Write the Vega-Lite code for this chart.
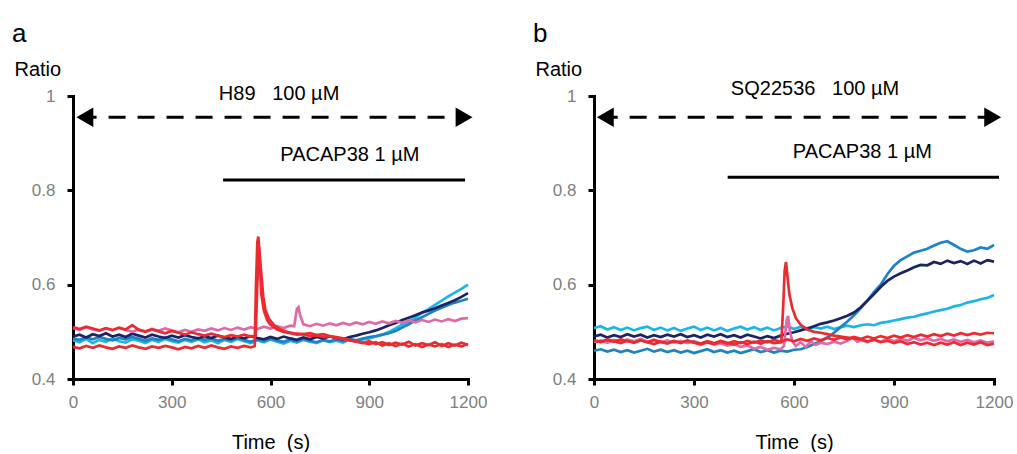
{
"$schema": "https://vega.github.io/schema/vega-lite/v6.json",
"padding": {"left": 12, "top": 21, "right": 5, "bottom": 0},
"spacing": 46,
"config": {
 "view": {"stroke": null},
 "font": "Liberation Sans",
 "axis": {"grid": false, "domainColor": "black", "domainWidth": 3, "domainCap": "square", "tickColor": "black", "tickWidth": 3, "tickSize": 6, "labelColor": "#808080", "labelFontSize": 17, "labelFont": "Liberation Sans", "titleFont": "Liberation Sans", "titleFontSize": 20, "titleFontWeight": "normal", "titleColor": "black"},
 "axisX": {"labelFlush": false, "labelPadding": 9, "titlePadding": 22, "labelOverlap": false},
 "axisY": {"titleAngle": 0, "titleAlign": "left", "titleBaseline": "alphabetic", "titleX": -59, "titleY": -21, "labelPadding": 12},
 "title": {"fontSize": 26, "fontWeight": "normal", "anchor": "start", "font": "Liberation Sans", "color": "black", "offset": 12}
},
"datasets": {
"a": [
{"s":"1cy","t":0,"v":0.482},{"s":"1cy","t":20,"v":0.478},{"s":"1cy","t":40,"v":0.485},{"s":"1cy","t":60,"v":0.476},{"s":"1cy","t":80,"v":0.483},{"s":"1cy","t":100,"v":0.479},{"s":"1cy","t":120,"v":0.486},{"s":"1cy","t":140,"v":0.480},{"s":"1cy","t":160,"v":0.477},{"s":"1cy","t":180,"v":0.484},{"s":"1cy","t":200,"v":0.481},{"s":"1cy","t":220,"v":0.476},{"s":"1cy","t":240,"v":0.483},{"s":"1cy","t":260,"v":0.479},{"s":"1cy","t":280,"v":0.485},{"s":"1cy","t":300,"v":0.480},{"s":"1cy","t":320,"v":0.477},{"s":"1cy","t":340,"v":0.483},{"s":"1cy","t":360,"v":0.479},{"s":"1cy","t":380,"v":0.484},{"s":"1cy","t":400,"v":0.478},{"s":"1cy","t":420,"v":0.482},{"s":"1cy","t":440,"v":0.476},{"s":"1cy","t":460,"v":0.483},{"s":"1cy","t":480,"v":0.479},{"s":"1cy","t":500,"v":0.485},{"s":"1cy","t":520,"v":0.480},{"s":"1cy","t":540,"v":0.476},{"s":"1cy","t":560,"v":0.482},{"s":"1cy","t":580,"v":0.478},{"s":"1cy","t":600,"v":0.484},{"s":"1cy","t":620,"v":0.479},{"s":"1cy","t":640,"v":0.475},{"s":"1cy","t":660,"v":0.481},{"s":"1cy","t":680,"v":0.477},{"s":"1cy","t":700,"v":0.483},{"s":"1cy","t":720,"v":0.479},{"s":"1cy","t":740,"v":0.476},{"s":"1cy","t":760,"v":0.482},{"s":"1cy","t":780,"v":0.478},{"s":"1cy","t":800,"v":0.481},{"s":"1cy","t":820,"v":0.477},{"s":"1cy","t":840,"v":0.483},{"s":"1cy","t":860,"v":0.480},{"s":"1cy","t":880,"v":0.484},{"s":"1cy","t":900,"v":0.486},{"s":"1cy","t":920,"v":0.490},{"s":"1cy","t":940,"v":0.494},{"s":"1cy","t":960,"v":0.500},{"s":"1cy","t":980,"v":0.507},{"s":"1cy","t":1000,"v":0.515},{"s":"1cy","t":1020,"v":0.522},{"s":"1cy","t":1040,"v":0.530},{"s":"1cy","t":1060,"v":0.540},{"s":"1cy","t":1080,"v":0.548},{"s":"1cy","t":1100,"v":0.557},{"s":"1cy","t":1120,"v":0.566},{"s":"1cy","t":1140,"v":0.575},{"s":"1cy","t":1160,"v":0.583},{"s":"1cy","t":1180,"v":0.591},{"s":"1cy","t":1200,"v":0.600},
{"s":"2mb","t":0,"v":0.486},{"s":"2mb","t":20,"v":0.483},{"s":"2mb","t":40,"v":0.488},{"s":"2mb","t":60,"v":0.484},{"s":"2mb","t":80,"v":0.489},{"s":"2mb","t":100,"v":0.485},{"s":"2mb","t":120,"v":0.482},{"s":"2mb","t":140,"v":0.487},{"s":"2mb","t":160,"v":0.484},{"s":"2mb","t":180,"v":0.489},{"s":"2mb","t":200,"v":0.485},{"s":"2mb","t":220,"v":0.481},{"s":"2mb","t":240,"v":0.486},{"s":"2mb","t":260,"v":0.483},{"s":"2mb","t":280,"v":0.488},{"s":"2mb","t":300,"v":0.484},{"s":"2mb","t":320,"v":0.480},{"s":"2mb","t":340,"v":0.485},{"s":"2mb","t":360,"v":0.482},{"s":"2mb","t":380,"v":0.487},{"s":"2mb","t":400,"v":0.483},{"s":"2mb","t":420,"v":0.486},{"s":"2mb","t":440,"v":0.481},{"s":"2mb","t":460,"v":0.485},{"s":"2mb","t":480,"v":0.482},{"s":"2mb","t":500,"v":0.487},{"s":"2mb","t":520,"v":0.483},{"s":"2mb","t":540,"v":0.479},{"s":"2mb","t":560,"v":0.484},{"s":"2mb","t":580,"v":0.481},{"s":"2mb","t":600,"v":0.486},{"s":"2mb","t":620,"v":0.482},{"s":"2mb","t":640,"v":0.479},{"s":"2mb","t":660,"v":0.484},{"s":"2mb","t":680,"v":0.480},{"s":"2mb","t":700,"v":0.485},{"s":"2mb","t":720,"v":0.481},{"s":"2mb","t":740,"v":0.478},{"s":"2mb","t":760,"v":0.483},{"s":"2mb","t":780,"v":0.480},{"s":"2mb","t":800,"v":0.484},{"s":"2mb","t":820,"v":0.481},{"s":"2mb","t":840,"v":0.485},{"s":"2mb","t":860,"v":0.482},{"s":"2mb","t":880,"v":0.486},{"s":"2mb","t":900,"v":0.489},{"s":"2mb","t":920,"v":0.491},{"s":"2mb","t":940,"v":0.494},{"s":"2mb","t":960,"v":0.497},{"s":"2mb","t":980,"v":0.502},{"s":"2mb","t":1000,"v":0.509},{"s":"2mb","t":1020,"v":0.516},{"s":"2mb","t":1040,"v":0.524},{"s":"2mb","t":1060,"v":0.531},{"s":"2mb","t":1080,"v":0.538},{"s":"2mb","t":1100,"v":0.545},{"s":"2mb","t":1120,"v":0.551},{"s":"2mb","t":1140,"v":0.557},{"s":"2mb","t":1160,"v":0.562},{"s":"2mb","t":1180,"v":0.566},{"s":"2mb","t":1200,"v":0.570},
{"s":"3nv","t":0,"v":0.490},{"s":"3nv","t":20,"v":0.494},{"s":"3nv","t":40,"v":0.488},{"s":"3nv","t":60,"v":0.495},{"s":"3nv","t":80,"v":0.491},{"s":"3nv","t":100,"v":0.497},{"s":"3nv","t":120,"v":0.490},{"s":"3nv","t":140,"v":0.494},{"s":"3nv","t":160,"v":0.489},{"s":"3nv","t":180,"v":0.496},{"s":"3nv","t":200,"v":0.492},{"s":"3nv","t":220,"v":0.488},{"s":"3nv","t":240,"v":0.494},{"s":"3nv","t":260,"v":0.490},{"s":"3nv","t":280,"v":0.487},{"s":"3nv","t":300,"v":0.492},{"s":"3nv","t":320,"v":0.488},{"s":"3nv","t":340,"v":0.493},{"s":"3nv","t":360,"v":0.489},{"s":"3nv","t":380,"v":0.486},{"s":"3nv","t":400,"v":0.491},{"s":"3nv","t":420,"v":0.487},{"s":"3nv","t":440,"v":0.492},{"s":"3nv","t":460,"v":0.488},{"s":"3nv","t":480,"v":0.485},{"s":"3nv","t":500,"v":0.490},{"s":"3nv","t":520,"v":0.486},{"s":"3nv","t":540,"v":0.491},{"s":"3nv","t":560,"v":0.487},{"s":"3nv","t":580,"v":0.484},{"s":"3nv","t":600,"v":0.489},{"s":"3nv","t":620,"v":0.485},{"s":"3nv","t":640,"v":0.490},{"s":"3nv","t":660,"v":0.486},{"s":"3nv","t":680,"v":0.483},{"s":"3nv","t":700,"v":0.488},{"s":"3nv","t":720,"v":0.484},{"s":"3nv","t":740,"v":0.489},{"s":"3nv","t":760,"v":0.486},{"s":"3nv","t":780,"v":0.490},{"s":"3nv","t":800,"v":0.487},{"s":"3nv","t":820,"v":0.484},{"s":"3nv","t":840,"v":0.489},{"s":"3nv","t":860,"v":0.492},{"s":"3nv","t":880,"v":0.496},{"s":"3nv","t":900,"v":0.499},{"s":"3nv","t":920,"v":0.503},{"s":"3nv","t":940,"v":0.508},{"s":"3nv","t":960,"v":0.514},{"s":"3nv","t":980,"v":0.519},{"s":"3nv","t":1000,"v":0.525},{"s":"3nv","t":1020,"v":0.530},{"s":"3nv","t":1040,"v":0.535},{"s":"3nv","t":1060,"v":0.541},{"s":"3nv","t":1080,"v":0.545},{"s":"3nv","t":1100,"v":0.550},{"s":"3nv","t":1120,"v":0.556},{"s":"3nv","t":1140,"v":0.561},{"s":"3nv","t":1160,"v":0.567},{"s":"3nv","t":1180,"v":0.574},{"s":"3nv","t":1200,"v":0.582},
{"s":"4pk","t":0,"v":0.508},{"s":"4pk","t":20,"v":0.504},{"s":"4pk","t":40,"v":0.510},{"s":"4pk","t":60,"v":0.505},{"s":"4pk","t":80,"v":0.502},{"s":"4pk","t":100,"v":0.507},{"s":"4pk","t":120,"v":0.503},{"s":"4pk","t":140,"v":0.508},{"s":"4pk","t":160,"v":0.504},{"s":"4pk","t":180,"v":0.500},{"s":"4pk","t":200,"v":0.505},{"s":"4pk","t":220,"v":0.501},{"s":"4pk","t":240,"v":0.506},{"s":"4pk","t":260,"v":0.502},{"s":"4pk","t":280,"v":0.507},{"s":"4pk","t":300,"v":0.503},{"s":"4pk","t":320,"v":0.499},{"s":"4pk","t":340,"v":0.504},{"s":"4pk","t":360,"v":0.500},{"s":"4pk","t":380,"v":0.505},{"s":"4pk","t":400,"v":0.502},{"s":"4pk","t":420,"v":0.507},{"s":"4pk","t":440,"v":0.503},{"s":"4pk","t":460,"v":0.508},{"s":"4pk","t":480,"v":0.504},{"s":"4pk","t":500,"v":0.509},{"s":"4pk","t":520,"v":0.505},{"s":"4pk","t":540,"v":0.510},{"s":"4pk","t":560,"v":0.506},{"s":"4pk","t":580,"v":0.511},{"s":"4pk","t":600,"v":0.507},{"s":"4pk","t":620,"v":0.512},{"s":"4pk","t":640,"v":0.508},{"s":"4pk","t":660,"v":0.513},{"s":"4pk","t":672,"v":0.512},{"s":"4pk","t":680,"v":0.548},{"s":"4pk","t":685,"v":0.552},{"s":"4pk","t":690,"v":0.535},{"s":"4pk","t":700,"v":0.516},{"s":"4pk","t":720,"v":0.512},{"s":"4pk","t":740,"v":0.517},{"s":"4pk","t":760,"v":0.513},{"s":"4pk","t":780,"v":0.518},{"s":"4pk","t":800,"v":0.514},{"s":"4pk","t":820,"v":0.519},{"s":"4pk","t":840,"v":0.515},{"s":"4pk","t":860,"v":0.520},{"s":"4pk","t":880,"v":0.516},{"s":"4pk","t":900,"v":0.521},{"s":"4pk","t":920,"v":0.517},{"s":"4pk","t":940,"v":0.522},{"s":"4pk","t":960,"v":0.518},{"s":"4pk","t":980,"v":0.523},{"s":"4pk","t":1000,"v":0.519},{"s":"4pk","t":1020,"v":0.524},{"s":"4pk","t":1040,"v":0.520},{"s":"4pk","t":1060,"v":0.525},{"s":"4pk","t":1080,"v":0.521},{"s":"4pk","t":1100,"v":0.526},{"s":"4pk","t":1120,"v":0.522},{"s":"4pk","t":1140,"v":0.527},{"s":"4pk","t":1160,"v":0.523},{"s":"4pk","t":1180,"v":0.528},{"s":"4pk","t":1200,"v":0.529},
{"s":"5r1","t":0,"v":0.468},{"s":"5r1","t":20,"v":0.465},{"s":"5r1","t":40,"v":0.470},{"s":"5r1","t":60,"v":0.466},{"s":"5r1","t":80,"v":0.471},{"s":"5r1","t":100,"v":0.467},{"s":"5r1","t":120,"v":0.464},{"s":"5r1","t":140,"v":0.469},{"s":"5r1","t":160,"v":0.466},{"s":"5r1","t":180,"v":0.471},{"s":"5r1","t":200,"v":0.467},{"s":"5r1","t":220,"v":0.464},{"s":"5r1","t":240,"v":0.469},{"s":"5r1","t":260,"v":0.466},{"s":"5r1","t":280,"v":0.470},{"s":"5r1","t":300,"v":0.467},{"s":"5r1","t":320,"v":0.463},{"s":"5r1","t":340,"v":0.468},{"s":"5r1","t":360,"v":0.465},{"s":"5r1","t":380,"v":0.470},{"s":"5r1","t":400,"v":0.466},{"s":"5r1","t":420,"v":0.471},{"s":"5r1","t":440,"v":0.467},{"s":"5r1","t":460,"v":0.464},{"s":"5r1","t":480,"v":0.469},{"s":"5r1","t":500,"v":0.466},{"s":"5r1","t":520,"v":0.470},{"s":"5r1","t":540,"v":0.467},{"s":"5r1","t":552,"v":0.470},{"s":"5r1","t":556,"v":0.600},{"s":"5r1","t":560,"v":0.690},{"s":"5r1","t":563,"v":0.702},{"s":"5r1","t":567,"v":0.660},{"s":"5r1","t":572,"v":0.580},{"s":"5r1","t":580,"v":0.545},{"s":"5r1","t":590,"v":0.525},{"s":"5r1","t":600,"v":0.515},{"s":"5r1","t":620,"v":0.505},{"s":"5r1","t":640,"v":0.500},{"s":"5r1","t":660,"v":0.497},{"s":"5r1","t":680,"v":0.494},{"s":"5r1","t":700,"v":0.495},{"s":"5r1","t":720,"v":0.491},{"s":"5r1","t":740,"v":0.493},{"s":"5r1","t":760,"v":0.489},{"s":"5r1","t":780,"v":0.491},{"s":"5r1","t":800,"v":0.487},{"s":"5r1","t":820,"v":0.485},{"s":"5r1","t":840,"v":0.482},{"s":"5r1","t":860,"v":0.479},{"s":"5r1","t":880,"v":0.476},{"s":"5r1","t":900,"v":0.480},{"s":"5r1","t":920,"v":0.474},{"s":"5r1","t":940,"v":0.478},{"s":"5r1","t":960,"v":0.472},{"s":"5r1","t":980,"v":0.477},{"s":"5r1","t":1000,"v":0.473},{"s":"5r1","t":1020,"v":0.479},{"s":"5r1","t":1040,"v":0.471},{"s":"5r1","t":1060,"v":0.476},{"s":"5r1","t":1080,"v":0.472},{"s":"5r1","t":1100,"v":0.478},{"s":"5r1","t":1120,"v":0.470},{"s":"5r1","t":1140,"v":0.476},{"s":"5r1","t":1160,"v":0.471},{"s":"5r1","t":1180,"v":0.477},{"s":"5r1","t":1200,"v":0.472},
{"s":"6r2","t":0,"v":0.510},{"s":"6r2","t":20,"v":0.506},{"s":"6r2","t":40,"v":0.511},{"s":"6r2","t":60,"v":0.507},{"s":"6r2","t":80,"v":0.503},{"s":"6r2","t":100,"v":0.508},{"s":"6r2","t":120,"v":0.504},{"s":"6r2","t":140,"v":0.509},{"s":"6r2","t":160,"v":0.505},{"s":"6r2","t":180,"v":0.514},{"s":"6r2","t":200,"v":0.504},{"s":"6r2","t":220,"v":0.500},{"s":"6r2","t":240,"v":0.505},{"s":"6r2","t":260,"v":0.501},{"s":"6r2","t":280,"v":0.497},{"s":"6r2","t":300,"v":0.502},{"s":"6r2","t":320,"v":0.498},{"s":"6r2","t":340,"v":0.494},{"s":"6r2","t":360,"v":0.499},{"s":"6r2","t":380,"v":0.495},{"s":"6r2","t":400,"v":0.492},{"s":"6r2","t":420,"v":0.496},{"s":"6r2","t":440,"v":0.492},{"s":"6r2","t":460,"v":0.489},{"s":"6r2","t":480,"v":0.493},{"s":"6r2","t":500,"v":0.490},{"s":"6r2","t":520,"v":0.494},{"s":"6r2","t":540,"v":0.490},{"s":"6r2","t":555,"v":0.492},{"s":"6r2","t":560,"v":0.600},{"s":"6r2","t":565,"v":0.680},{"s":"6r2","t":570,"v":0.640},{"s":"6r2","t":578,"v":0.575},{"s":"6r2","t":585,"v":0.545},{"s":"6r2","t":595,"v":0.528},{"s":"6r2","t":610,"v":0.515},{"s":"6r2","t":630,"v":0.505},{"s":"6r2","t":650,"v":0.500},{"s":"6r2","t":670,"v":0.497},{"s":"6r2","t":700,"v":0.495},{"s":"6r2","t":720,"v":0.497},{"s":"6r2","t":740,"v":0.493},{"s":"6r2","t":760,"v":0.495},{"s":"6r2","t":780,"v":0.491},{"s":"6r2","t":800,"v":0.489},{"s":"6r2","t":820,"v":0.486},{"s":"6r2","t":840,"v":0.483},{"s":"6r2","t":860,"v":0.480},{"s":"6r2","t":880,"v":0.477},{"s":"6r2","t":900,"v":0.474},{"s":"6r2","t":920,"v":0.478},{"s":"6r2","t":940,"v":0.471},{"s":"6r2","t":960,"v":0.476},{"s":"6r2","t":980,"v":0.470},{"s":"6r2","t":1000,"v":0.475},{"s":"6r2","t":1020,"v":0.469},{"s":"6r2","t":1040,"v":0.474},{"s":"6r2","t":1060,"v":0.468},{"s":"6r2","t":1080,"v":0.473},{"s":"6r2","t":1100,"v":0.469},{"s":"6r2","t":1120,"v":0.474},{"s":"6r2","t":1140,"v":0.468},{"s":"6r2","t":1160,"v":0.473},{"s":"6r2","t":1180,"v":0.469},{"s":"6r2","t":1200,"v":0.474}
],
"b": [
{"s":"1cy","t":0,"v":0.508},{"s":"1cy","t":20,"v":0.512},{"s":"1cy","t":40,"v":0.505},{"s":"1cy","t":60,"v":0.510},{"s":"1cy","t":80,"v":0.504},{"s":"1cy","t":100,"v":0.509},{"s":"1cy","t":120,"v":0.503},{"s":"1cy","t":140,"v":0.508},{"s":"1cy","t":160,"v":0.511},{"s":"1cy","t":180,"v":0.504},{"s":"1cy","t":200,"v":0.509},{"s":"1cy","t":220,"v":0.503},{"s":"1cy","t":240,"v":0.508},{"s":"1cy","t":260,"v":0.502},{"s":"1cy","t":280,"v":0.507},{"s":"1cy","t":300,"v":0.511},{"s":"1cy","t":320,"v":0.504},{"s":"1cy","t":340,"v":0.509},{"s":"1cy","t":360,"v":0.503},{"s":"1cy","t":380,"v":0.508},{"s":"1cy","t":400,"v":0.502},{"s":"1cy","t":420,"v":0.507},{"s":"1cy","t":440,"v":0.511},{"s":"1cy","t":460,"v":0.505},{"s":"1cy","t":480,"v":0.510},{"s":"1cy","t":500,"v":0.504},{"s":"1cy","t":520,"v":0.509},{"s":"1cy","t":540,"v":0.503},{"s":"1cy","t":560,"v":0.508},{"s":"1cy","t":580,"v":0.512},{"s":"1cy","t":600,"v":0.506},{"s":"1cy","t":620,"v":0.511},{"s":"1cy","t":640,"v":0.505},{"s":"1cy","t":660,"v":0.510},{"s":"1cy","t":680,"v":0.507},{"s":"1cy","t":700,"v":0.511},{"s":"1cy","t":720,"v":0.506},{"s":"1cy","t":740,"v":0.510},{"s":"1cy","t":760,"v":0.513},{"s":"1cy","t":780,"v":0.510},{"s":"1cy","t":800,"v":0.514},{"s":"1cy","t":820,"v":0.516},{"s":"1cy","t":840,"v":0.514},{"s":"1cy","t":860,"v":0.519},{"s":"1cy","t":880,"v":0.521},{"s":"1cy","t":900,"v":0.524},{"s":"1cy","t":920,"v":0.527},{"s":"1cy","t":940,"v":0.530},{"s":"1cy","t":960,"v":0.532},{"s":"1cy","t":980,"v":0.536},{"s":"1cy","t":1000,"v":0.539},{"s":"1cy","t":1020,"v":0.543},{"s":"1cy","t":1040,"v":0.546},{"s":"1cy","t":1060,"v":0.549},{"s":"1cy","t":1080,"v":0.554},{"s":"1cy","t":1100,"v":0.557},{"s":"1cy","t":1120,"v":0.562},{"s":"1cy","t":1140,"v":0.565},{"s":"1cy","t":1160,"v":0.569},{"s":"1cy","t":1180,"v":0.572},{"s":"1cy","t":1200,"v":0.578},
{"s":"2mb","t":0,"v":0.460},{"s":"2mb","t":20,"v":0.463},{"s":"2mb","t":40,"v":0.458},{"s":"2mb","t":60,"v":0.462},{"s":"2mb","t":80,"v":0.457},{"s":"2mb","t":100,"v":0.461},{"s":"2mb","t":120,"v":0.456},{"s":"2mb","t":140,"v":0.460},{"s":"2mb","t":160,"v":0.464},{"s":"2mb","t":180,"v":0.458},{"s":"2mb","t":200,"v":0.462},{"s":"2mb","t":220,"v":0.457},{"s":"2mb","t":240,"v":0.461},{"s":"2mb","t":260,"v":0.456},{"s":"2mb","t":280,"v":0.460},{"s":"2mb","t":300,"v":0.455},{"s":"2mb","t":320,"v":0.459},{"s":"2mb","t":340,"v":0.463},{"s":"2mb","t":360,"v":0.457},{"s":"2mb","t":380,"v":0.461},{"s":"2mb","t":400,"v":0.456},{"s":"2mb","t":420,"v":0.460},{"s":"2mb","t":440,"v":0.455},{"s":"2mb","t":460,"v":0.459},{"s":"2mb","t":480,"v":0.463},{"s":"2mb","t":500,"v":0.457},{"s":"2mb","t":520,"v":0.461},{"s":"2mb","t":540,"v":0.456},{"s":"2mb","t":560,"v":0.460},{"s":"2mb","t":580,"v":0.458},{"s":"2mb","t":600,"v":0.462},{"s":"2mb","t":620,"v":0.463},{"s":"2mb","t":640,"v":0.468},{"s":"2mb","t":660,"v":0.474},{"s":"2mb","t":680,"v":0.480},{"s":"2mb","t":700,"v":0.488},{"s":"2mb","t":720,"v":0.498},{"s":"2mb","t":740,"v":0.510},{"s":"2mb","t":760,"v":0.522},{"s":"2mb","t":780,"v":0.535},{"s":"2mb","t":800,"v":0.550},{"s":"2mb","t":820,"v":0.566},{"s":"2mb","t":840,"v":0.584},{"s":"2mb","t":860,"v":0.600},{"s":"2mb","t":880,"v":0.622},{"s":"2mb","t":900,"v":0.640},{"s":"2mb","t":920,"v":0.652},{"s":"2mb","t":940,"v":0.660},{"s":"2mb","t":960,"v":0.668},{"s":"2mb","t":980,"v":0.672},{"s":"2mb","t":1000,"v":0.676},{"s":"2mb","t":1020,"v":0.683},{"s":"2mb","t":1040,"v":0.689},{"s":"2mb","t":1060,"v":0.692},{"s":"2mb","t":1080,"v":0.684},{"s":"2mb","t":1100,"v":0.676},{"s":"2mb","t":1120,"v":0.670},{"s":"2mb","t":1140,"v":0.673},{"s":"2mb","t":1160,"v":0.679},{"s":"2mb","t":1180,"v":0.676},{"s":"2mb","t":1200,"v":0.684},
{"s":"3nv","t":0,"v":0.490},{"s":"3nv","t":20,"v":0.494},{"s":"3nv","t":40,"v":0.488},{"s":"3nv","t":60,"v":0.493},{"s":"3nv","t":80,"v":0.489},{"s":"3nv","t":100,"v":0.495},{"s":"3nv","t":120,"v":0.490},{"s":"3nv","t":140,"v":0.494},{"s":"3nv","t":160,"v":0.488},{"s":"3nv","t":180,"v":0.493},{"s":"3nv","t":200,"v":0.489},{"s":"3nv","t":220,"v":0.494},{"s":"3nv","t":240,"v":0.490},{"s":"3nv","t":260,"v":0.495},{"s":"3nv","t":280,"v":0.489},{"s":"3nv","t":300,"v":0.493},{"s":"3nv","t":320,"v":0.488},{"s":"3nv","t":340,"v":0.494},{"s":"3nv","t":360,"v":0.490},{"s":"3nv","t":380,"v":0.495},{"s":"3nv","t":400,"v":0.489},{"s":"3nv","t":420,"v":0.493},{"s":"3nv","t":440,"v":0.488},{"s":"3nv","t":460,"v":0.494},{"s":"3nv","t":480,"v":0.490},{"s":"3nv","t":500,"v":0.486},{"s":"3nv","t":520,"v":0.491},{"s":"3nv","t":540,"v":0.487},{"s":"3nv","t":560,"v":0.492},{"s":"3nv","t":580,"v":0.496},{"s":"3nv","t":600,"v":0.499},{"s":"3nv","t":620,"v":0.503},{"s":"3nv","t":640,"v":0.507},{"s":"3nv","t":660,"v":0.512},{"s":"3nv","t":680,"v":0.517},{"s":"3nv","t":700,"v":0.520},{"s":"3nv","t":720,"v":0.524},{"s":"3nv","t":740,"v":0.529},{"s":"3nv","t":760,"v":0.534},{"s":"3nv","t":780,"v":0.541},{"s":"3nv","t":800,"v":0.552},{"s":"3nv","t":820,"v":0.566},{"s":"3nv","t":840,"v":0.580},{"s":"3nv","t":860,"v":0.595},{"s":"3nv","t":880,"v":0.608},{"s":"3nv","t":900,"v":0.617},{"s":"3nv","t":920,"v":0.624},{"s":"3nv","t":940,"v":0.630},{"s":"3nv","t":960,"v":0.637},{"s":"3nv","t":980,"v":0.642},{"s":"3nv","t":1000,"v":0.641},{"s":"3nv","t":1020,"v":0.648},{"s":"3nv","t":1040,"v":0.644},{"s":"3nv","t":1060,"v":0.651},{"s":"3nv","t":1080,"v":0.646},{"s":"3nv","t":1100,"v":0.650},{"s":"3nv","t":1120,"v":0.644},{"s":"3nv","t":1140,"v":0.651},{"s":"3nv","t":1160,"v":0.645},{"s":"3nv","t":1180,"v":0.652},{"s":"3nv","t":1200,"v":0.649},
{"s":"4pk","t":0,"v":0.478},{"s":"4pk","t":20,"v":0.482},{"s":"4pk","t":40,"v":0.477},{"s":"4pk","t":60,"v":0.483},{"s":"4pk","t":80,"v":0.479},{"s":"4pk","t":100,"v":0.484},{"s":"4pk","t":120,"v":0.480},{"s":"4pk","t":140,"v":0.485},{"s":"4pk","t":160,"v":0.479},{"s":"4pk","t":180,"v":0.483},{"s":"4pk","t":200,"v":0.478},{"s":"4pk","t":220,"v":0.482},{"s":"4pk","t":240,"v":0.477},{"s":"4pk","t":260,"v":0.481},{"s":"4pk","t":280,"v":0.476},{"s":"4pk","t":300,"v":0.480},{"s":"4pk","t":320,"v":0.475},{"s":"4pk","t":340,"v":0.478},{"s":"4pk","t":360,"v":0.473},{"s":"4pk","t":380,"v":0.476},{"s":"4pk","t":400,"v":0.471},{"s":"4pk","t":420,"v":0.474},{"s":"4pk","t":440,"v":0.468},{"s":"4pk","t":460,"v":0.471},{"s":"4pk","t":480,"v":0.464},{"s":"4pk","t":500,"v":0.468},{"s":"4pk","t":520,"v":0.462},{"s":"4pk","t":540,"v":0.466},{"s":"4pk","t":560,"v":0.463},{"s":"4pk","t":570,"v":0.470},{"s":"4pk","t":578,"v":0.525},{"s":"4pk","t":582,"v":0.534},{"s":"4pk","t":588,"v":0.500},{"s":"4pk","t":595,"v":0.480},{"s":"4pk","t":605,"v":0.470},{"s":"4pk","t":620,"v":0.478},{"s":"4pk","t":635,"v":0.468},{"s":"4pk","t":650,"v":0.480},{"s":"4pk","t":665,"v":0.472},{"s":"4pk","t":680,"v":0.477},{"s":"4pk","t":700,"v":0.474},{"s":"4pk","t":720,"v":0.479},{"s":"4pk","t":740,"v":0.475},{"s":"4pk","t":760,"v":0.481},{"s":"4pk","t":775,"v":0.488},{"s":"4pk","t":790,"v":0.479},{"s":"4pk","t":800,"v":0.483},{"s":"4pk","t":820,"v":0.478},{"s":"4pk","t":840,"v":0.484},{"s":"4pk","t":860,"v":0.479},{"s":"4pk","t":880,"v":0.485},{"s":"4pk","t":900,"v":0.480},{"s":"4pk","t":920,"v":0.486},{"s":"4pk","t":940,"v":0.481},{"s":"4pk","t":960,"v":0.487},{"s":"4pk","t":980,"v":0.482},{"s":"4pk","t":1000,"v":0.486},{"s":"4pk","t":1020,"v":0.481},{"s":"4pk","t":1040,"v":0.485},{"s":"4pk","t":1060,"v":0.480},{"s":"4pk","t":1080,"v":0.484},{"s":"4pk","t":1100,"v":0.479},{"s":"4pk","t":1120,"v":0.483},{"s":"4pk","t":1140,"v":0.478},{"s":"4pk","t":1160,"v":0.482},{"s":"4pk","t":1180,"v":0.477},{"s":"4pk","t":1200,"v":0.480},
{"s":"5r1","t":0,"v":0.481},{"s":"5r1","t":20,"v":0.478},{"s":"5r1","t":40,"v":0.483},{"s":"5r1","t":60,"v":0.479},{"s":"5r1","t":80,"v":0.484},{"s":"5r1","t":100,"v":0.480},{"s":"5r1","t":120,"v":0.477},{"s":"5r1","t":140,"v":0.482},{"s":"5r1","t":160,"v":0.478},{"s":"5r1","t":180,"v":0.483},{"s":"5r1","t":200,"v":0.479},{"s":"5r1","t":220,"v":0.476},{"s":"5r1","t":240,"v":0.481},{"s":"5r1","t":260,"v":0.477},{"s":"5r1","t":280,"v":0.482},{"s":"5r1","t":300,"v":0.478},{"s":"5r1","t":320,"v":0.475},{"s":"5r1","t":340,"v":0.480},{"s":"5r1","t":360,"v":0.476},{"s":"5r1","t":380,"v":0.481},{"s":"5r1","t":400,"v":0.477},{"s":"5r1","t":420,"v":0.473},{"s":"5r1","t":440,"v":0.478},{"s":"5r1","t":460,"v":0.474},{"s":"5r1","t":480,"v":0.479},{"s":"5r1","t":500,"v":0.475},{"s":"5r1","t":520,"v":0.480},{"s":"5r1","t":540,"v":0.476},{"s":"5r1","t":562,"v":0.478},{"s":"5r1","t":568,"v":0.560},{"s":"5r1","t":572,"v":0.630},{"s":"5r1","t":576,"v":0.648},{"s":"5r1","t":580,"v":0.620},{"s":"5r1","t":586,"v":0.580},{"s":"5r1","t":595,"v":0.550},{"s":"5r1","t":605,"v":0.530},{"s":"5r1","t":620,"v":0.515},{"s":"5r1","t":640,"v":0.505},{"s":"5r1","t":660,"v":0.500},{"s":"5r1","t":680,"v":0.498},{"s":"5r1","t":700,"v":0.495},{"s":"5r1","t":720,"v":0.492},{"s":"5r1","t":740,"v":0.490},{"s":"5r1","t":760,"v":0.488},{"s":"5r1","t":780,"v":0.486},{"s":"5r1","t":800,"v":0.484},{"s":"5r1","t":820,"v":0.480},{"s":"5r1","t":840,"v":0.483},{"s":"5r1","t":860,"v":0.478},{"s":"5r1","t":880,"v":0.481},{"s":"5r1","t":900,"v":0.476},{"s":"5r1","t":920,"v":0.480},{"s":"5r1","t":940,"v":0.474},{"s":"5r1","t":960,"v":0.478},{"s":"5r1","t":980,"v":0.473},{"s":"5r1","t":1000,"v":0.477},{"s":"5r1","t":1020,"v":0.472},{"s":"5r1","t":1040,"v":0.477},{"s":"5r1","t":1060,"v":0.473},{"s":"5r1","t":1080,"v":0.478},{"s":"5r1","t":1100,"v":0.472},{"s":"5r1","t":1120,"v":0.477},{"s":"5r1","t":1140,"v":0.473},{"s":"5r1","t":1160,"v":0.478},{"s":"5r1","t":1180,"v":0.472},{"s":"5r1","t":1200,"v":0.475},
{"s":"6r2","t":0,"v":0.482},{"s":"6r2","t":20,"v":0.479},{"s":"6r2","t":40,"v":0.484},{"s":"6r2","t":60,"v":0.480},{"s":"6r2","t":80,"v":0.476},{"s":"6r2","t":100,"v":0.481},{"s":"6r2","t":120,"v":0.477},{"s":"6r2","t":140,"v":0.482},{"s":"6r2","t":160,"v":0.478},{"s":"6r2","t":180,"v":0.474},{"s":"6r2","t":200,"v":0.479},{"s":"6r2","t":220,"v":0.475},{"s":"6r2","t":240,"v":0.480},{"s":"6r2","t":260,"v":0.476},{"s":"6r2","t":280,"v":0.481},{"s":"6r2","t":300,"v":0.477},{"s":"6r2","t":320,"v":0.473},{"s":"6r2","t":340,"v":0.478},{"s":"6r2","t":360,"v":0.474},{"s":"6r2","t":380,"v":0.479},{"s":"6r2","t":400,"v":0.475},{"s":"6r2","t":420,"v":0.480},{"s":"6r2","t":440,"v":0.476},{"s":"6r2","t":460,"v":0.481},{"s":"6r2","t":480,"v":0.477},{"s":"6r2","t":500,"v":0.482},{"s":"6r2","t":520,"v":0.478},{"s":"6r2","t":540,"v":0.483},{"s":"6r2","t":560,"v":0.479},{"s":"6r2","t":580,"v":0.484},{"s":"6r2","t":600,"v":0.480},{"s":"6r2","t":620,"v":0.485},{"s":"6r2","t":640,"v":0.481},{"s":"6r2","t":660,"v":0.486},{"s":"6r2","t":680,"v":0.482},{"s":"6r2","t":700,"v":0.487},{"s":"6r2","t":720,"v":0.483},{"s":"6r2","t":740,"v":0.488},{"s":"6r2","t":760,"v":0.484},{"s":"6r2","t":780,"v":0.489},{"s":"6r2","t":800,"v":0.485},{"s":"6r2","t":820,"v":0.490},{"s":"6r2","t":840,"v":0.486},{"s":"6r2","t":860,"v":0.491},{"s":"6r2","t":880,"v":0.487},{"s":"6r2","t":900,"v":0.492},{"s":"6r2","t":920,"v":0.488},{"s":"6r2","t":940,"v":0.493},{"s":"6r2","t":960,"v":0.489},{"s":"6r2","t":980,"v":0.494},{"s":"6r2","t":1000,"v":0.490},{"s":"6r2","t":1020,"v":0.495},{"s":"6r2","t":1040,"v":0.491},{"s":"6r2","t":1060,"v":0.496},{"s":"6r2","t":1080,"v":0.492},{"s":"6r2","t":1100,"v":0.497},{"s":"6r2","t":1120,"v":0.493},{"s":"6r2","t":1140,"v":0.497},{"s":"6r2","t":1160,"v":0.494},{"s":"6r2","t":1180,"v":0.498},{"s":"6r2","t":1200,"v":0.497}
]
},
"hconcat": [
{
 "width": 395, "height": 283,
 "title": {"text": "a", "dx": -2},
 "layer": [
  {"data": {"name": "a"}, "mark": {"type": "line", "strokeWidth": 2.7},
   "encoding": {
    "x": {"field": "t", "type": "quantitative", "scale": {"domain": [0, 1200], "nice": false}, "axis": {"title": "Time\u00a0 (s)", "values": [0, 300, 600, 900, 1200], "format": "d"}},
    "y": {"field": "v", "type": "quantitative", "scale": {"domain": [0.4, 1], "nice": false, "zero": false}, "axis": {"title": "Ratio", "values": [0.4, 0.6, 0.8, 1], "format": ".1~f"}},
    "color": {"field": "s", "type": "nominal", "legend": null, "scale": {"domain": ["1cy", "2mb", "3nv", "4pk", "5r1", "6r2"], "range": ["#1cb5ea", "#1f82c2", "#1b2463", "#e06aa8", "#ea2b2f", "#ea2b2f"]}}
   }},
  {"data": {"values": [{}]}, "mark": {"type": "rule", "strokeDash": [17, 12], "strokeWidth": 3, "color": "black"},
   "encoding": {"x": {"datum": 20}, "x2": {"datum": 1185}, "y": {"datum": 0.955}}},
  {"data": {"values": [{}]}, "mark": {"type": "point", "shape": "triangle-left", "filled": true, "size": 380, "color": "black", "opacity": 1},
   "encoding": {"x": {"datum": 36}, "y": {"datum": 0.955}}},
  {"data": {"values": [{}]}, "mark": {"type": "point", "shape": "triangle-right", "filled": true, "size": 380, "color": "black", "opacity": 1},
   "encoding": {"x": {"datum": 1188}, "y": {"datum": 0.955}}},
  {"data": {"values": [{}]}, "mark": {"type": "rule", "strokeWidth": 3, "color": "black"},
   "encoding": {"x": {"datum": 456}, "x2": {"datum": 1191}, "y": {"datum": 0.822}}},
  {"data": {"values": [{}]}, "mark": {"type": "text", "text": "H89\u00a0\u00a0 100 µM", "fontSize": 20, "baseline": "middle", "align": "center", "color": "black"},
   "encoding": {"x": {"datum": 626}, "y": {"datum": 1.004}}},
  {"data": {"values": [{}]}, "mark": {"type": "text", "text": "PACAP38 1 µM", "fontSize": 20, "baseline": "middle", "align": "center", "color": "black"},
   "encoding": {"x": {"datum": 841}, "y": {"datum": 0.875}}}
 ]
},
{
 "width": 400, "height": 283,
 "title": {"text": "b", "dx": -2},
 "layer": [
  {"data": {"name": "b"}, "mark": {"type": "line", "strokeWidth": 2.7},
   "encoding": {
    "x": {"field": "t", "type": "quantitative", "scale": {"domain": [0, 1200], "nice": false}, "axis": {"title": "Time\u00a0 (s)", "values": [0, 300, 600, 900, 1200], "format": "d"}},
    "y": {"field": "v", "type": "quantitative", "scale": {"domain": [0.4, 1], "nice": false, "zero": false}, "axis": {"title": "Ratio", "values": [0.4, 0.6, 0.8, 1], "format": ".1~f"}},
    "color": {"field": "s", "type": "nominal", "legend": null, "scale": {"domain": ["1cy", "2mb", "3nv", "4pk", "5r1", "6r2"], "range": ["#1cb5ea", "#1f82c2", "#1b2463", "#e06aa8", "#ea2b2f", "#ea2b2f"]}}
   }},
  {"data": {"values": [{}]}, "mark": {"type": "rule", "strokeDash": [17, 12], "strokeWidth": 3, "color": "black"},
   "encoding": {"x": {"datum": 20}, "x2": {"datum": 1190}, "y": {"datum": 0.955}}},
  {"data": {"values": [{}]}, "mark": {"type": "point", "shape": "triangle-left", "filled": true, "size": 380, "color": "black", "opacity": 1},
   "encoding": {"x": {"datum": 34}, "y": {"datum": 0.955}}},
  {"data": {"values": [{}]}, "mark": {"type": "point", "shape": "triangle-right", "filled": true, "size": 380, "color": "black", "opacity": 1},
   "encoding": {"x": {"datum": 1196}, "y": {"datum": 0.955}}},
  {"data": {"values": [{}]}, "mark": {"type": "rule", "strokeWidth": 3, "color": "black"},
   "encoding": {"x": {"datum": 401}, "x2": {"datum": 1215}, "y": {"datum": 0.828}}},
  {"data": {"values": [{}]}, "mark": {"type": "text", "text": "SQ22536\u00a0\u00a0 100 µM", "fontSize": 20, "baseline": "middle", "align": "center", "color": "black"},
   "encoding": {"x": {"datum": 663}, "y": {"datum": 1.015}}},
  {"data": {"values": [{}]}, "mark": {"type": "text", "text": "PACAP38 1 µM", "fontSize": 20, "baseline": "middle", "align": "center", "color": "black"},
   "encoding": {"x": {"datum": 805}, "y": {"datum": 0.881}}}
 ]
}
]
}
